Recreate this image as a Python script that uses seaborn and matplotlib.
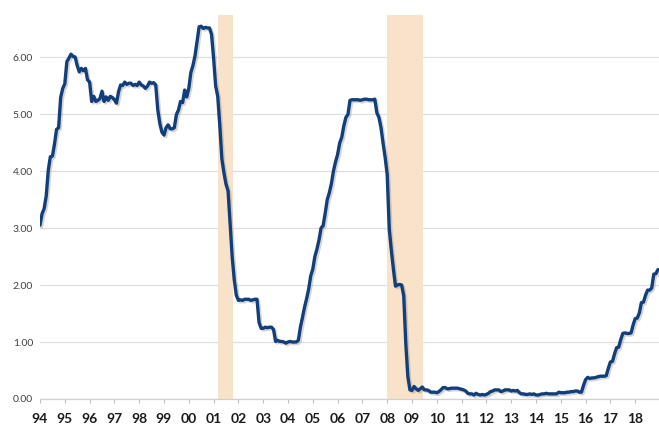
import numpy as np
import pandas as pd
import matplotlib
matplotlib.use("Agg")
import matplotlib.pyplot as plt
import matplotlib.patheffects as pe
import seaborn as sns

# Monthly effective fed funds rate, Jan 1994 - Dec 2018
fed_funds = [
    3.05, 3.25, 3.34, 3.56, 4.01, 4.25, 4.26, 4.47, 4.73, 4.76, 5.29, 5.45,  # 94
    5.53, 5.92, 5.98, 6.05, 6.01, 6.00, 5.85, 5.74, 5.80, 5.76, 5.80, 5.60,  # 95
    5.56, 5.22, 5.31, 5.22, 5.24, 5.27, 5.40, 5.22, 5.30, 5.24, 5.31, 5.29,  # 96
    5.25, 5.19, 5.39, 5.51, 5.50, 5.56, 5.52, 5.54, 5.54, 5.50, 5.52, 5.50,  # 97
    5.56, 5.51, 5.49, 5.45, 5.49, 5.56, 5.54, 5.55, 5.51, 5.07, 4.83, 4.68,  # 98
    4.63, 4.76, 4.81, 4.74, 4.74, 4.76, 4.99, 5.07, 5.22, 5.20, 5.42, 5.30,  # 99
    5.45, 5.73, 5.85, 6.02, 6.27, 6.53, 6.54, 6.50, 6.52, 6.51, 6.51, 6.40,  # 00
    5.98, 5.49, 5.31, 4.80, 4.21, 3.97, 3.77, 3.65, 3.07, 2.49, 2.09, 1.82,  # 01
    1.73, 1.74, 1.73, 1.75, 1.75, 1.75, 1.73, 1.74, 1.75, 1.75, 1.34, 1.24,  # 02
    1.24, 1.26, 1.25, 1.26, 1.26, 1.22, 1.01, 1.03, 1.01, 1.01, 1.00, 0.98,  # 03
    1.00, 1.01, 1.00, 1.00, 1.00, 1.03, 1.26, 1.43, 1.61, 1.76, 1.93, 2.16,  # 04
    2.28, 2.50, 2.63, 2.79, 3.00, 3.04, 3.26, 3.50, 3.62, 3.78, 4.00, 4.16,  # 05
    4.29, 4.49, 4.59, 4.79, 4.94, 4.99, 5.24, 5.25, 5.25, 5.25, 5.25, 5.24,  # 06
    5.25, 5.26, 5.26, 5.25, 5.25, 5.25, 5.26, 5.02, 4.94, 4.76, 4.49, 4.24,  # 07
    3.94, 2.98, 2.61, 2.28, 1.98, 2.00, 2.01, 2.00, 1.81, 0.97, 0.39, 0.16,  # 08
    0.15, 0.22, 0.18, 0.15, 0.18, 0.21, 0.16, 0.16, 0.15, 0.12, 0.12, 0.12,  # 09
    0.11, 0.13, 0.16, 0.20, 0.20, 0.18, 0.18, 0.19, 0.19, 0.19, 0.19, 0.18,  # 10
    0.17, 0.16, 0.14, 0.10, 0.09, 0.09, 0.07, 0.10, 0.08, 0.07, 0.08, 0.07,  # 11
    0.08, 0.10, 0.13, 0.14, 0.16, 0.16, 0.16, 0.13, 0.14, 0.16, 0.16, 0.16,  # 12
    0.14, 0.15, 0.14, 0.15, 0.11, 0.09, 0.09, 0.08, 0.08, 0.09, 0.08, 0.09,  # 13
    0.07, 0.07, 0.08, 0.09, 0.09, 0.10, 0.09, 0.09, 0.09, 0.09, 0.09, 0.12,  # 14
    0.11, 0.11, 0.11, 0.12, 0.12, 0.13, 0.13, 0.14, 0.14, 0.12, 0.12, 0.24,  # 15
    0.34, 0.38, 0.36, 0.37, 0.37, 0.38, 0.39, 0.40, 0.40, 0.40, 0.41, 0.54,  # 16
    0.65, 0.66, 0.79, 0.90, 0.91, 1.04, 1.15, 1.16, 1.15, 1.15, 1.16, 1.30,  # 17
    1.41, 1.42, 1.51, 1.69, 1.70, 1.82, 1.91, 1.91, 1.95, 2.19, 2.20, 2.27,  # 18
]
start_year = 1994

# recessions (start, end) in fractional years
recession_start = [2001.17, 2007.99]
recession_end = [2001.79, 2009.45]

years = list(range(1994, 2019))
year_labels = [f"{y % 100:02d}" for y in years]
y_ticks = [0, 1, 2, 3, 4, 5, 6]

df = pd.DataFrame({
    "t": [start_year + i / 12 for i in range(len(fed_funds))],
    "rate": fed_funds,
})

sns.set_theme(style="white")
plt.rcParams["font.family"] = ["Lato", "DejaVu Sans"]

fig = plt.figure(figsize=(6.59, 4.28), dpi=100)
ax = fig.add_axes([40 / 659, 29 / 428, 619 / 659, 384 / 428])

for s, e in zip(recession_start, recession_end):
    ax.axvspan(s, e, color="#f9e2ca", lw=0, zorder=1)

sns.lineplot(data=df, x="t", y="rate", ax=ax, color="#123f7a", lw=2.4, zorder=3,
             path_effects=[pe.SimpleLineShadow(offset=(1.2, -1.2), shadow_color="#888888", alpha=0.35),
                           pe.Normal()])

ax.set_xlim(1994, 2018.96)
ax.set_ylim(0, 6.737)
ax.set_yticks(y_ticks)
ax.set_yticklabels([f"{v:.2f}" for v in y_ticks], fontsize=7.5, color="#404040")
ax.set_xticks(years)
ax.set_xticklabels(year_labels, fontsize=10, fontweight="bold", color="#1a1a1a")
ax.yaxis.grid(True, color="#dedede", lw=0.9, zorder=0)
ax.set_axisbelow(True)
ax.tick_params(axis="y", length=0, pad=5)
ax.tick_params(axis="x", length=3, width=0.8, color="#bfbfbf", pad=7, bottom=True)
for side in ["top", "right", "left"]:
    ax.spines[side].set_visible(False)
ax.spines["bottom"].set_color("#d0d0d0")
ax.spines["bottom"].set_linewidth(0.9)
ax.set_xlabel("")
ax.set_ylabel("")

fig.savefig("out.png", dpi=100)
